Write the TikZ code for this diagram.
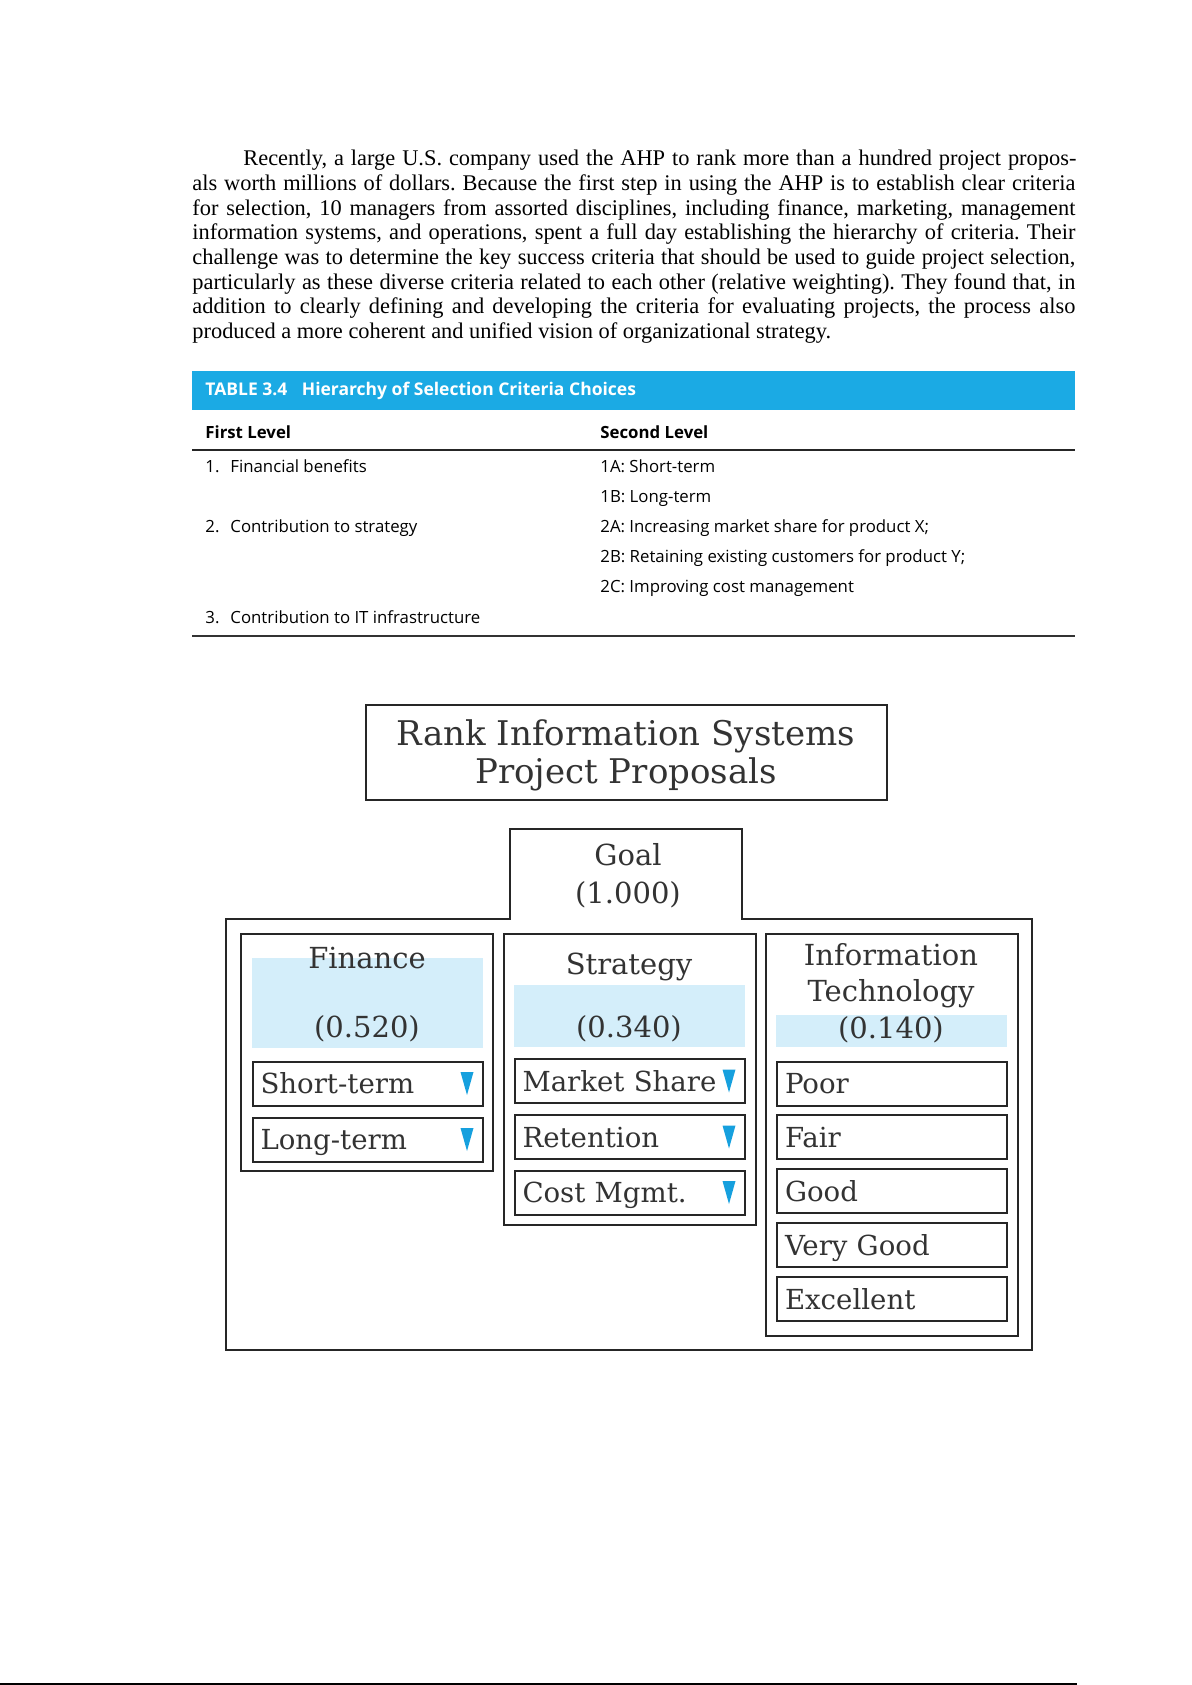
\documentclass[tikz,border=0pt]{standalone}
\usepackage{fontspec}
\setmainfont{Liberation Serif}
\newfontfamily\tabfont{Open Sans}
\newfontfamily\boxfont{DejaVu Serif}
\usetikzlibrary{calc,positioning}
\definecolor{barblue}{RGB}{27,170,228}
\definecolor{bandblue}{RGB}{212,238,250}
\definecolor{tricol}{RGB}{22,160,222}
\tikzset{
    bodyline/.style={inner sep=0pt, anchor=base west, font=\frenchspacing\fontsize{11.2}{12.3}\selectfont},
    tabtext/.style={inner sep=0pt, anchor=base west, font=\tabfont\fontsize{8.4}{10}\selectfont},
    tabhead/.style={tabtext, font=\tabfont\bfseries\fontsize{8.4}{10}\selectfont},
    frame/.style={draw=black!85, line width=1pt},
    itembox/.style={frame, anchor=north west, text width=107pt, inner xsep=4pt, inner ysep=0pt,
        minimum height=22pt, text height=10.2pt, text depth=0pt, align=left,
        font=\boxfont\fontsize{13.8}{16}\selectfont, text=black!80},
    boxlabel/.style={inner sep=0pt, anchor=base, font=\boxfont\fontsize{14.5}{17}\selectfont, text=black!80},
}
\begin{document}
\begin{tikzpicture}[x=0.5pt,y=-0.5pt]
    \useasboundingbox (0,0) rectangle (1192,1685);
    % text of the page
    \node[bodyline] (p1) at (243,166) {\makebox[416.5pt][s]{Recently, a large U.S. company used the AHP to rank more than a hundred project propos-}};
    \foreach \ptxt [count=\i from 2] in {
        {als worth millions of dollars. Because the first step in using the AHP is to establish clear criteria},
        {for selection, 10 managers from assorted disciplines, including finance, marketing, management},
        {information systems, and operations, spent a full day establishing the hierarchy of criteria. Their},
        {challenge was to determine the key success criteria that should be used to guide project selection,},
        {particularly as these diverse criteria related to each other (relative weighting). They found that, in},
        {addition to clearly defining and developing the criteria for evaluating projects, the process also}}
        \node[bodyline] (p\i) at (192,{166+24.65*(\i-1)}) {\makebox[441.5pt][s]{\ptxt}};
    \node[bodyline] (p8) at (192,338.6) {produced a more coherent and unified vision of organizational strategy.};

    % table 3.4
    \fill[barblue] (192,371) rectangle (1075,410);
    \node[tabhead, text=white, font=\tabfont\bfseries\fontsize{8.75}{10}\selectfont] (tcap) at (205,395) {TABLE 3.4\hspace{5pt} Hierarchy of Selection Criteria Choices};
    \node[tabhead] (h1) at (205,438) {First Level};
    \node[tabhead] (h2) at (600,438) {Second Level};
    \draw[line width=0.6pt, black!85] (192,450) -- (1075,450);
    \node[tabtext] (n1) at (205,472.5) {1.};
    \node[tabtext] (f1) at (230,472.5) {Financial benefits};
    \node[tabtext] (n2) at (205,532.7) {2.};
    \node[tabtext] (f2) at (230,532.7) {Contribution to strategy};
    \node[tabtext] (n3) at (205,623) {3.};
    \node[tabtext] (f3) at (230,623) {Contribution to IT infrastructure};
    \foreach \stxt [count=\i from 0] in {{1A: Short-term},{1B: Long-term},{2A: Increasing market share for product X;},
        {2B: Retaining existing customers for product Y;},{2C: Improving cost management}}
        \node[tabtext] (s\i) at (600,{472.5+30.1*\i}) {\stxt};
    \draw[line width=1.3pt, black!80] (192,636) -- (1075,636);

    % hierarchy
    \draw[frame] (365.5,704.5) rectangle (887,799.5);
    \node[boxlabel, font=\boxfont\fontsize{17}{19}\selectfont] (rank1) at (626,745) {Rank Information Systems};
    \node[boxlabel, font=\boxfont\fontsize{17}{19}\selectfont] (rank2) at (626,783) {Project Proposals};

    \draw[frame] (226,919) -- (510,919) -- (510,829) -- (741.5,829) -- (741.5,919)
        -- (1032,919) -- (1032,1350) -- (226,1350) -- cycle;
    \node[boxlabel] (goal) at (628,865) {Goal};
    \node[boxlabel] (goalw) at (628,903.5) {(1.000)};

    % finance
    \draw[frame] (241,933.5) rectangle (493,1171);
    \fill[bandblue] (251.5,958) rectangle (482.5,1048);
    \node[boxlabel] (fin) at (367,968) {Finance};
    \node[boxlabel] (finw) at (367,1037) {(0.520)};
    \node[itembox] (fs) at (251.5,1060.5) {Short-term};
    \node[itembox] (fl) at (251.5,1116.5) {Long-term};

    % strategy
    \draw[frame] (503.5,933.5) rectangle (755.5,1224.5);
    \fill[bandblue] (514,985) rectangle (745,1047);
    \node[boxlabel] (str) at (629,974) {Strategy};
    \node[boxlabel] (strw) at (629,1037) {(0.340)};
    \node[itembox] (sm) at (513.5,1058) {Market Share};
    \node[itembox] (sr) at (513.5,1114) {Retention};
    \node[itembox] (sc) at (513.5,1169.5) {Cost Mgmt.};

    % information technology
    \draw[frame] (765.5,933.5) rectangle (1017.5,1335.5);
    \fill[bandblue] (776,1014.5) rectangle (1007,1046.5);
    \node[boxlabel] (inf1) at (891,965) {Information};
    \node[boxlabel] (inf2) at (891,1001.5) {Technology};
    \node[boxlabel] (infw) at (891,1038) {(0.140)};
    \foreach \q [count=\i from 0] in {Poor,Fair,Good,Very Good,Excellent}
        \node[itembox] (it\i) at (776,{1060.5+53.9*\i}) {\q};

    % drop-down marks
    \foreach \b in {fs,fl,sm,sr,sc}
        \fill[tricol] ($(\b.east)+(-23,-11.5)$) -- ++(13,0) -- ++(-6.5,23) -- cycle;

    \draw[line width=0.8pt] (0,1684) -- (1077,1684);
\end{tikzpicture}
\end{document}
